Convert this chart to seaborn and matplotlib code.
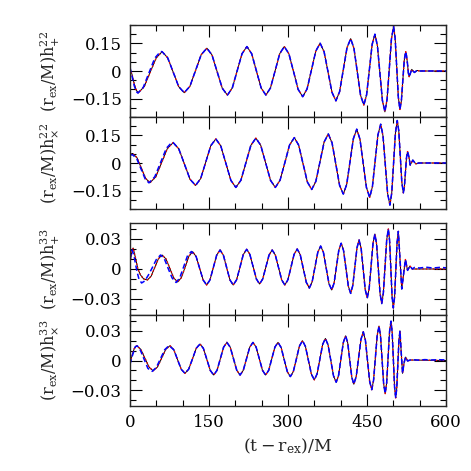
import numpy as np
import matplotlib
matplotlib.use("Agg")
import matplotlib.pyplot as plt
from matplotlib.ticker import FixedLocator, MultipleLocator
import seaborn as sns

# ---- waveform samples: (t - r_ex)/M and (r_ex/M) h ----
# l=2,m=2 plus polarisation (black solid / red dotted)
t22p = [0, 4, 8, 12, 16,
        27, 38.5, 50, 61, 71.5, 82, 92.5, 103, 113.75, 124.5, 135.25, 146,
        155.75, 165.5, 175.25, 185, 194.25, 203.5, 212.75, 222, 231, 240, 249, 258,
        266.75, 275.5, 284.25, 293, 301.75, 310.5, 319.25, 328, 336.25, 344.5, 352.75, 361,
        368.5, 376, 383.5, 391, 398, 405, 412, 419, 425.25, 431.5, 437.75, 444,
        449.25, 454.5, 459.75, 465, 469.75, 474.5, 479.25, 484, 488.1, 492.25, 496.4, 500.5,
        503.5, 506.5, 509.5, 512.5, 515.25, 518, 520.75, 523.5, 525.2, 527, 528.5, 530,
        532.5, 535, 537.5, 540, 545, 550, 600]
h22p = [0.012, -0.02, -0.07, -0.105, -0.118,
        -0.085, -0.005, 0.072, 0.105, 0.072, -0.006, -0.085, -0.118, -0.083, 0.003, 0.089, 0.124,
        0.087, -0.004, -0.094, -0.131, -0.092, 0.001, 0.094, 0.133, 0.094, 0.001, -0.092, -0.131,
        -0.092, 0.001, 0.094, 0.133, 0.093, -0.003, -0.100, -0.140, -0.097, 0.005, 0.108, 0.151,
        0.105, -0.005, -0.116, -0.162, -0.112, 0.007, 0.126, 0.176, 0.123, -0.004, -0.132, -0.185,
        -0.129, 0.007, 0.144, 0.200, 0.138, -0.011, -0.160, -0.222, -0.154, 0.010, 0.174, 0.242,
        0.176, 0.017, -0.143, -0.209, -0.163, -0.052, 0.059, 0.105, 0.080, 0.037, -0.010, -0.031,
        -0.012, 0.009, 0.0, -0.008, 0.003, 0.0, 0.0]
# blue dashed run differs slightly at early times
t22p_blue_head = [0, 4, 8, 12, 15, 25, 36, 47, 58]
h22p_blue_head = [0.02, -0.03, -0.08, -0.112, -0.12, -0.09, -0.01, 0.07, 0.106]

# l=2,m=2 cross polarisation
t22x = [0, 5,
        13.25, 21.5, 29.75, 38, 49, 60, 71, 82, 92.6, 103.25, 113.9, 124.5,
        134.1, 143.75, 153.4, 163, 172.5, 182, 191.5, 201, 210.5, 220, 229.5, 239,
        248.25, 257.5, 266.75, 276, 285, 294, 303, 312, 320.25, 328.5, 336.75, 345,
        352.9, 360.75, 368.6, 376.5, 383.6, 390.75, 397.9, 405, 411.4, 417.75, 424.1, 430.5,
        436.6, 442.75, 448.9, 455, 460.25, 465.5, 470.75, 476, 480.4, 484.75, 489.1, 493.5,
        497, 500.5, 504, 507.5, 510.4, 513.25, 516.1, 519, 521, 523, 525, 527,
        529.5, 532, 534.5, 537, 540, 543, 548, 600]
h22x = [0.048, 0.052,
        0.029, -0.027, -0.084, -0.107, -0.075, 0.002, 0.079, 0.111, 0.077, -0.005, -0.088, -0.122,
        -0.085, 0.004, 0.094, 0.131, 0.092, -0.001, -0.094, -0.133, -0.094, 0.001, 0.096, 0.135,
        0.096, 0.001, -0.094, -0.133, -0.093, 0.002, 0.098, 0.138, 0.097, -0.003, -0.103, -0.144,
        -0.100, 0.007, 0.114, 0.158, 0.110, -0.005, -0.121, -0.169, -0.117, 0.007, 0.132, 0.184,
        0.130, -0.001, -0.133, -0.187, -0.129, 0.012, 0.153, 0.211, 0.147, -0.009, -0.165, -0.229,
        -0.162, 0.001, 0.164, 0.231, 0.173, 0.034, -0.104, -0.162, -0.129, -0.05, 0.029, 0.062,
        0.035, -0.011, 0.002, 0.016, 0.004, -0.005, 0.0, 0.0]
t22x_blue_head = [0, 5, 13, 21, 29, 36, 47, 58, 69, 79]
h22x_blue_head = [0.043, 0.045, 0.022, -0.033, -0.088, -0.108, -0.075, 0.002, 0.08, 0.111]

# l=3,m=3 plus polarisation
t33p = [0, 3, 6, 10, 15, 20, 26, 33,
        40, 47, 54, 61, 68.4, 75.75, 83.1, 90.5, 97.6, 104.75, 111.9, 119,
        125.6, 132.25, 138.9, 145.5, 151.9, 158.25, 164.6, 171, 177.25, 183.5, 189.75, 196,
        202.4, 208.75, 215.1, 221.5, 227.6, 233.75, 239.9, 246, 252, 258, 264, 270,
        276, 282, 288, 294, 299.9, 305.75, 311.6, 317.5, 323.25, 329, 334.75, 340.5,
        345.9, 351.25, 356.6, 362, 367.25, 372.5, 377.75, 383, 387.5, 392, 396.5, 401,
        405.5, 410, 414.5, 419, 423, 427, 431, 435, 438.9, 442.75, 446.6, 450.5,
        454.1, 457.75, 461.4, 465, 468.25, 471.5, 474.75, 478, 481.1, 484.25, 487.4, 490.5,
        492.9, 495.25, 497.6, 500, 502.4, 504.75, 507.1, 509.5,
        512.75, 516, 519.5, 523, 527, 531.5, 536, 600]
h33p = [0.006, 0.016, 0.021, 0.012, 0.0, -0.006, -0.010, -0.011,
        -0.0073, 0.0015, 0.0103, 0.014, 0.010, 0.0005, -0.009, -0.013, -0.0086, 0.002, 0.0129, 0.0173,
        0.0124, 0.0006, -0.011, -0.016, -0.0109, 0.0015, 0.0139, 0.019, 0.0139, 0.0015, -0.0109, -0.016,
        -0.0108, 0.0018, 0.0144, 0.0197, 0.0146, 0.0023, -0.0099, -0.015, -0.010, 0.002, 0.014, 0.019,
        0.0139, 0.0015, -0.0109, -0.016, -0.0107, 0.002, 0.0147, 0.020, 0.0143, 0.0005, -0.0133, -0.019,
        -0.0128, 0.002, 0.0168, 0.023, 0.0166, 0.001, -0.0146, -0.021, -0.0141, 0.0024, 0.0189, 0.0258,
        0.0184, 0.0007, -0.017, -0.0244, -0.0166, 0.0023, 0.0212, 0.029, 0.0205, 0.0, -0.0205, -0.029,
        -0.0196, 0.003, 0.0256, 0.035, 0.0248, 0.0002, -0.0244, -0.0346, -0.0237, 0.0027, 0.0291, 0.040,
        0.0285, 0.0005, -0.0275, -0.039, -0.0278, -0.0007, 0.0264, 0.0376,
        0.009, -0.020, -0.005, 0.0095, -0.0014, 0.003, 0.0, 0.0]
t33p_blue_head = [0, 4, 8, 13, 17, 22, 28, 35, 42, 50, 58, 65, 72.5, 80, 87.5, 94.5, 101.75, 109, 116.5]
h33p_blue_head = [0.010, 0.019, 0.012, -0.002, -0.010, -0.014, -0.012, -0.006, 0.001, 0.0095,
                  0.014, 0.0105, 0.0005, -0.009, -0.0135, -0.0088, 0.002, 0.013, 0.0175]
t33p_blue_tail = [540, 550, 562, 575, 588, 600]
h33p_blue_tail = [0.0015, 0.001, 0.0018, 0.001, 0.0016, 0.0012]

# l=3,m=3 cross polarisation
t33x = [0, 4, 8, 12.7, 20.5, 28.35, 36.2, 44, 52, 60, 68, 76,
        83.1, 90.2, 97.3, 104.4, 111.55, 118.7, 125.85, 133, 139.5, 146, 152.5, 159,
        165.25, 171.5, 177.75, 184, 190.25, 196.5, 202.75, 209, 215.1, 221.25, 227.4, 233.5,
        239.5, 245.5, 251.5, 257.5, 263.4, 269.25, 275.1, 281, 286.9, 292.75, 298.6, 304.5,
        310.25, 316, 321.75, 327.5, 333.1, 338.75, 344.4, 350, 355.25, 360.5, 365.75, 371,
        376.1, 381.25, 386.4, 391.5, 396, 400.5, 405, 409.5, 413.4, 417.25, 421.1, 425,
        429.5, 434, 438.5, 443, 447, 451, 455, 459, 462.45, 465.9, 469.35, 472.8,
        475.7, 478.65, 481.6, 484.5, 487.3, 490.05, 492.8, 495.6, 497.8, 500.05, 502.3, 504.5,
        506.5, 508.55, 510.6, 512.6, 515, 517.5, 520.5, 523.4, 527, 532, 600]
h33x = [-0.002, 0.005, 0.012, 0.015, 0.0113, 0.0023, -0.0067, -0.0104, -0.0067, 0.0023, 0.0113, 0.015,
        0.0109, 0.001, -0.0089, -0.013, -0.0087, 0.0018, 0.0124, 0.0167, 0.0121, 0.001, -0.0101, -0.0147,
        -0.0099, 0.0018, 0.0135, 0.0183, 0.0135, 0.0018, -0.0099, -0.0147, -0.0099, 0.0018, 0.0135, 0.0183,
        0.0135, 0.0018, -0.0099, -0.0147, -0.0099, 0.0018, 0.0135, 0.0183, 0.0132, 0.001, -0.0112, -0.0163,
        -0.011, 0.0018, 0.0146, 0.020, 0.0142, 0.0002, -0.0138, -0.0196, -0.0135, 0.0013, 0.0161, 0.0223,
        0.0158, 0.0002, -0.0155, -0.022, -0.0151, 0.0015, 0.0181, 0.025, 0.0178, 0.0005, -0.0168, -0.024,
        -0.0162, 0.0025, 0.0212, 0.029, 0.0204, -0.0003, -0.0209, -0.0295, -0.0201, 0.0027, 0.0254, 0.0348,
        0.0248, 0.0007, -0.0235, -0.0335, -0.0228, 0.0032, 0.0291, 0.0398, 0.0284, 0.001, -0.0264, -0.0378,
        -0.0279, -0.0039, 0.0201, 0.030, 0.008, -0.013, -0.002, 0.0035, -0.0005, 0.0005, 0.0]
t33x_blue_head = [0, 4, 10, 14, 20, 27, 34, 42, 50, 58, 66, 74]
h33x_blue_head = [-0.004, 0.004, 0.014, 0.0148, 0.010, 0.001, -0.008, -0.011, -0.007, 0.002, 0.011, 0.015]
t33x_blue_tail = [536, 548, 560, 572, 586, 600]
h33x_blue_tail = [0.0008, 0.0004, 0.0009, 0.0005, 0.0008, 0.0006]

xticks = [0, 150, 300, 450, 600]
xticklabels = ["0", "150", "300", "450", "600"]
yticks22 = [-0.15, 0, 0.15]
yticklabels22 = ["\u22120.15", "0", "0.15"]
yticks33 = [-0.03, 0, 0.03]
yticklabels33 = ["\u22120.03", "0", "0.03"]

ylabels = [r"$(\mathrm{r_{ex}}/\mathrm{M})\mathrm{h}^{22}_{+}$",
           r"$(\mathrm{r_{ex}}/\mathrm{M})\mathrm{h}^{22}_{\times}$",
           r"$(\mathrm{r_{ex}}/\mathrm{M})\mathrm{h}^{33}_{+}$",
           r"$(\mathrm{r_{ex}}/\mathrm{M})\mathrm{h}^{33}_{\times}$"]
xlabel = r"$(\mathrm{t}-\mathrm{r_{ex}})/\mathrm{M}$"


def blue_run(t, h, head_t, head_h, tail_t=(), tail_h=()):
    t = np.asarray(t, float)
    h = np.asarray(h, float)
    keep = t > head_t[-1] + 2.5
    if len(tail_t):
        keep &= t < tail_t[0] - 2
    return (np.concatenate([head_t, t[keep], tail_t]),
            np.concatenate([head_h, h[keep], tail_h]))


sns.set_style("ticks")
plt.rcParams["font.family"] = ["DejaVu Serif"]
plt.rcParams["mathtext.fontset"] = "dejavuserif"
plt.rcParams["axes.linewidth"] = 1.0

fig = plt.figure(figsize=(4.71, 4.71), dpi=100)
W = 471.0
# (top, bottom) of each panel in pixels
rows = [(25, 117), (117, 209), (223, 315), (315, 406)]

panels = [
    (t22p, h22p, blue_run(t22p, h22p, t22p_blue_head, h22p_blue_head), 0.25, yticks22, yticklabels22, 0.05),
    (t22x, h22x, blue_run(t22x, h22x, t22x_blue_head, h22x_blue_head), 0.25, yticks22, yticklabels22, 0.05),
    (t33p, h33p, blue_run(t33p, h33p, t33p_blue_head, h33p_blue_head, t33p_blue_tail, h33p_blue_tail),
     0.046, yticks33, yticklabels33, 0.01),
    (t33x, h33x, blue_run(t33x, h33x, t33x_blue_head, h33x_blue_head, t33x_blue_tail, h33x_blue_tail),
     0.046, yticks33, yticklabels33, 0.01),
]

for i, ((top, bot), (t, h, (bt, bh), ylim, yt, ytl, ymin)) in enumerate(zip(rows, panels)):
    ax = fig.add_axes([130 / W, 1 - bot / W, 316 / W, (bot - top) / W])
    sns.lineplot(x=t, y=h, ax=ax, color="black", lw=0.7, estimator=None, sort=False)
    sns.lineplot(x=t, y=h, ax=ax, color="red", lw=1.0, linestyle=(0, (1, 1.5)),
                 estimator=None, sort=False)
    sns.lineplot(x=bt, y=bh, ax=ax, color="blue", lw=1.1, linestyle=(0, (3.5, 2)),
                 estimator=None, sort=False)
    ax.set_xlim(0, 600)
    ax.set_ylim(-ylim, ylim)
    ax.xaxis.set_major_locator(FixedLocator(xticks))
    ax.xaxis.set_minor_locator(MultipleLocator(50))
    ax.yaxis.set_major_locator(FixedLocator(yt))
    ax.yaxis.set_minor_locator(MultipleLocator(ymin))
    ax.set_yticklabels(ytl)
    ax.tick_params(which="both", direction="in", top=True, right=True, width=0.8,
                   labelsize=12, colors="black")
    ax.tick_params(which="major", length=8.4, pad=6)
    ax.tick_params(which="minor", length=4.3)
    ax.set_ylabel("")
    if i == 3:
        ax.set_xticklabels(xticklabels)
        ax.set_xlabel(xlabel, fontsize=12.5, labelpad=4)
    else:
        ax.tick_params(labelbottom=False)
        ax.set_xlabel("")
    fig.text(50 / W, 1 - (top + bot) / 2 / W, ylabels[i], rotation=90,
             ha="center", va="center", fontsize=11.5)

fig.savefig("out.png", dpi=100)
